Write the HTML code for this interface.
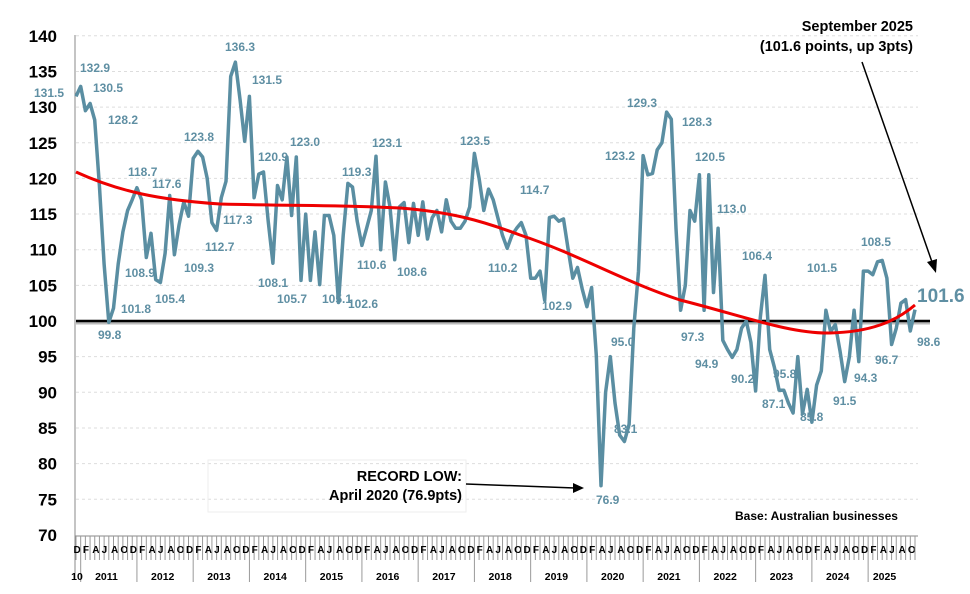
<!DOCTYPE html>
<html><head><meta charset="utf-8"><style>
body{margin:0;background:#fff;}
svg text{font-family:"Liberation Sans",Arial,sans-serif;}
.l{fill:#5f8fa3;font-size:12px;font-weight:bold;}
.y{font-size:17px;font-weight:bold;fill:#000;text-anchor:end;}
.m{font-size:10px;font-weight:bold;fill:#000;}
.yr{font-size:10.5px;font-weight:bold;fill:#000;text-anchor:middle;}
.a{font-size:14.5px;font-weight:bold;fill:#000;}
</style></head><body>
<svg id="s" width="970" height="589" xmlns="http://www.w3.org/2000/svg">
<g id="grid"></g>
<line x1="75" y1="35" x2="75" y2="580" stroke="#888" stroke-width="1"/>
<line x1="75" y1="536" x2="918" y2="536" stroke="#888"/>
<line x1="76" y1="323" x2="930" y2="323" stroke="#bbb" stroke-width="3"/>
<line x1="76" y1="321" x2="930" y2="321" stroke="#000" stroke-width="2.5"/>
<g id="ax"></g>
<polyline id="ser" fill="none" stroke="#5a8ea2" stroke-width="3.5" stroke-linejoin="round"/>
<path d="M76,172 C120,192 160,200 220,204 C300,206 340,205 400,208 C450,212 480,220 520,235 C580,255 620,280 680,300 C740,315 790,334 830,333 C870,332 895,322 915,305" fill="none" stroke="#e00" stroke-width="3"/>
<g class="l">
<text x="34" y="97">131.5</text><text x="80" y="72">132.9</text><text x="93" y="92">130.5</text><text x="108" y="124">128.2</text>
<text x="98" y="339">99.8</text><text x="121" y="313">101.8</text><text x="125" y="277">108.9</text><text x="128" y="176">118.7</text>
<text x="155" y="303">105.4</text><text x="152" y="188">117.6</text><text x="184" y="272">109.3</text><text x="184" y="141">123.8</text>
<text x="205" y="251">112.7</text><text x="223" y="224">117.3</text><text x="225" y="51">136.3</text><text x="252" y="84">131.5</text>
<text x="258" y="161">120.9</text><text x="258" y="287">108.1</text><text x="290" y="146">123.0</text><text x="277" y="303">105.7</text>
<text x="322" y="303">105.1</text><text x="342" y="176">119.3</text><text x="348" y="308">102.6</text><text x="357" y="269">110.6</text>
<text x="372" y="147">123.1</text><text x="397" y="276">108.6</text><text x="460" y="145">123.5</text><text x="488" y="272">110.2</text>
<text x="520" y="194">114.7</text><text x="542" y="310">102.9</text><text x="596" y="504">76.9</text><text x="611" y="346">95.0</text>
<text x="614" y="433">83.1</text><text x="605" y="160">123.2</text><text x="627" y="107">129.3</text><text x="682" y="126">128.3</text>
<text x="695" y="161">120.5</text><text x="681" y="341">97.3</text><text x="717" y="213">113.0</text><text x="695" y="368">94.9</text>
<text x="731" y="383">90.2</text><text x="742" y="260">106.4</text><text x="773" y="378">95.8</text><text x="762" y="408">87.1</text>
<text x="807" y="272">101.5</text><text x="800" y="421">85.8</text><text x="833" y="405">91.5</text><text x="854" y="382">94.3</text>
<text x="861" y="246">108.5</text><text x="875" y="364">96.7</text><text x="917" y="346">98.6</text>
</g>
<text x="917" y="302" style="font-size:19px;font-weight:bold;fill:#5f8fa3">101.6</text>
<text x="913" y="31" class="a" text-anchor="end">September 2025</text>
<text x="913" y="51" class="a" text-anchor="end">(101.6 points, up 3pts)</text>
<line x1="862" y1="62" x2="932" y2="262" stroke="#000" stroke-width="1.5"/>
<polygon points="936,273 927,262 937,259" fill="#000"/>
<rect x="208" y="460" width="258" height="52" fill="none" stroke="#eee"/>
<text x="462" y="481" class="a" text-anchor="end">RECORD LOW:</text>
<text x="462" y="500" class="a" text-anchor="end">April 2020 (76.9pts)</text>
<line x1="466" y1="484" x2="575" y2="488" stroke="#000" stroke-width="1.5"/>
<polygon points="584,488 573,483 573,493" fill="#000"/>
<text x="735" y="520" style="font-size:12px;font-weight:bold">Base: Australian businesses</text>
</svg>
<script>
var ns="http://www.w3.org/2000/svg",s=document.getElementById('s');
function Y(v){return 321-(v-100)*7.13;}
var g=document.getElementById('grid');
for(var v=70;v<=140;v+=5){
 if(v!=100&&v!=70){var l=document.createElementNS(ns,'line');l.setAttribute('x1',76);l.setAttribute('x2',918);l.setAttribute('y1',Y(v));l.setAttribute('y2',Y(v));l.setAttribute('stroke','#ddd');l.setAttribute('stroke-dasharray','3,3');g.appendChild(l);}
 var t=document.createElementNS(ns,'text');t.setAttribute('x',57);t.setAttribute('y',Y(v)+6);t.setAttribute('class','y');t.textContent=v;g.appendChild(t);
}
var d=[131.5,132.9,129.5,130.5,128.2,119,108,99.8,101.8,108,112.5,115.5,117,118.7,117,108.9,112.3,105.8,105.4,109.5,117.6,109.3,113.5,116.7,114.7,122.8,123.8,123,120,113.8,112.7,117.3,119.6,134.3,136.3,131,125.2,131.5,117.3,120.6,120.9,114,108.1,119,117,123,114.8,123,105.7,115,105.7,112.5,105.1,114.8,114.8,112,102.6,112,119.3,118.8,114,110.6,113,115.5,123.1,110,119.5,116,108.6,116,116.6,111,116.5,112,116.7,111.5,114.5,115.5,112.5,117,114,113,113,114,116,123.5,120,115.5,118.5,117,114.5,112,110.2,112,113,113.8,112,106,106,107,102.9,114.5,114.7,114,114.3,110,106,107.5,104.5,102,104.7,95.2,76.9,90,95,88.5,84,83.1,85.5,99,107,123.2,120.5,120.7,124,125,129.3,128.3,113,101.5,105,115.5,114,120.5,101.5,120.5,104,113,97.3,96,94.9,96,99,100,97,90.2,100.5,106.4,96,93.5,90.3,90.3,88.5,87.1,95,87,90.4,85.8,91,93,101.5,98.5,99.5,95.8,91.5,95,101.5,94.3,107,107,106.5,108.3,108.5,106,96.7,99,102.5,103,98.6,101.6];
var n=d.length,dx=(915-76)/(n-1),p=[];
for(var i=0;i<n;i++)p.push((76+i*dx).toFixed(1)+','+Y(d[i]).toFixed(1));
document.getElementById('ser').setAttribute('points',p.join(' '));
var ax=document.getElementById('ax'),L="DFAJAO";
for(var i=0;i<n;i++){var x=76+i*dx;var l=document.createElementNS(ns,'line');l.setAttribute('x1',x);l.setAttribute('x2',x);l.setAttribute('y1',536);l.setAttribute('y2',(i%12==1)?582:560);l.setAttribute('stroke','#999');ax.appendChild(l);
 if(i%2==0){var t=document.createElementNS(ns,'text');t.setAttribute('x',x-2.5);t.setAttribute('y',553);t.setAttribute('class','m');t.textContent=L[(i/2)%6];ax.appendChild(t);}}
var t=document.createElementNS(ns,'text');t.setAttribute('x',77);t.setAttribute('y',580);t.setAttribute('class','yr');t.textContent='10';ax.appendChild(t);
for(var y=2011;y<=2025;y++){var i0=1+(y-2011)*12;var x=76+(i0+5.5)*dx;if(y==2025)x=76+(i0+3.5)*dx;var t=document.createElementNS(ns,'text');t.setAttribute('x',x);t.setAttribute('y',580);t.setAttribute('class','yr');t.textContent=y;ax.appendChild(t);}
</script>
</body></html>
